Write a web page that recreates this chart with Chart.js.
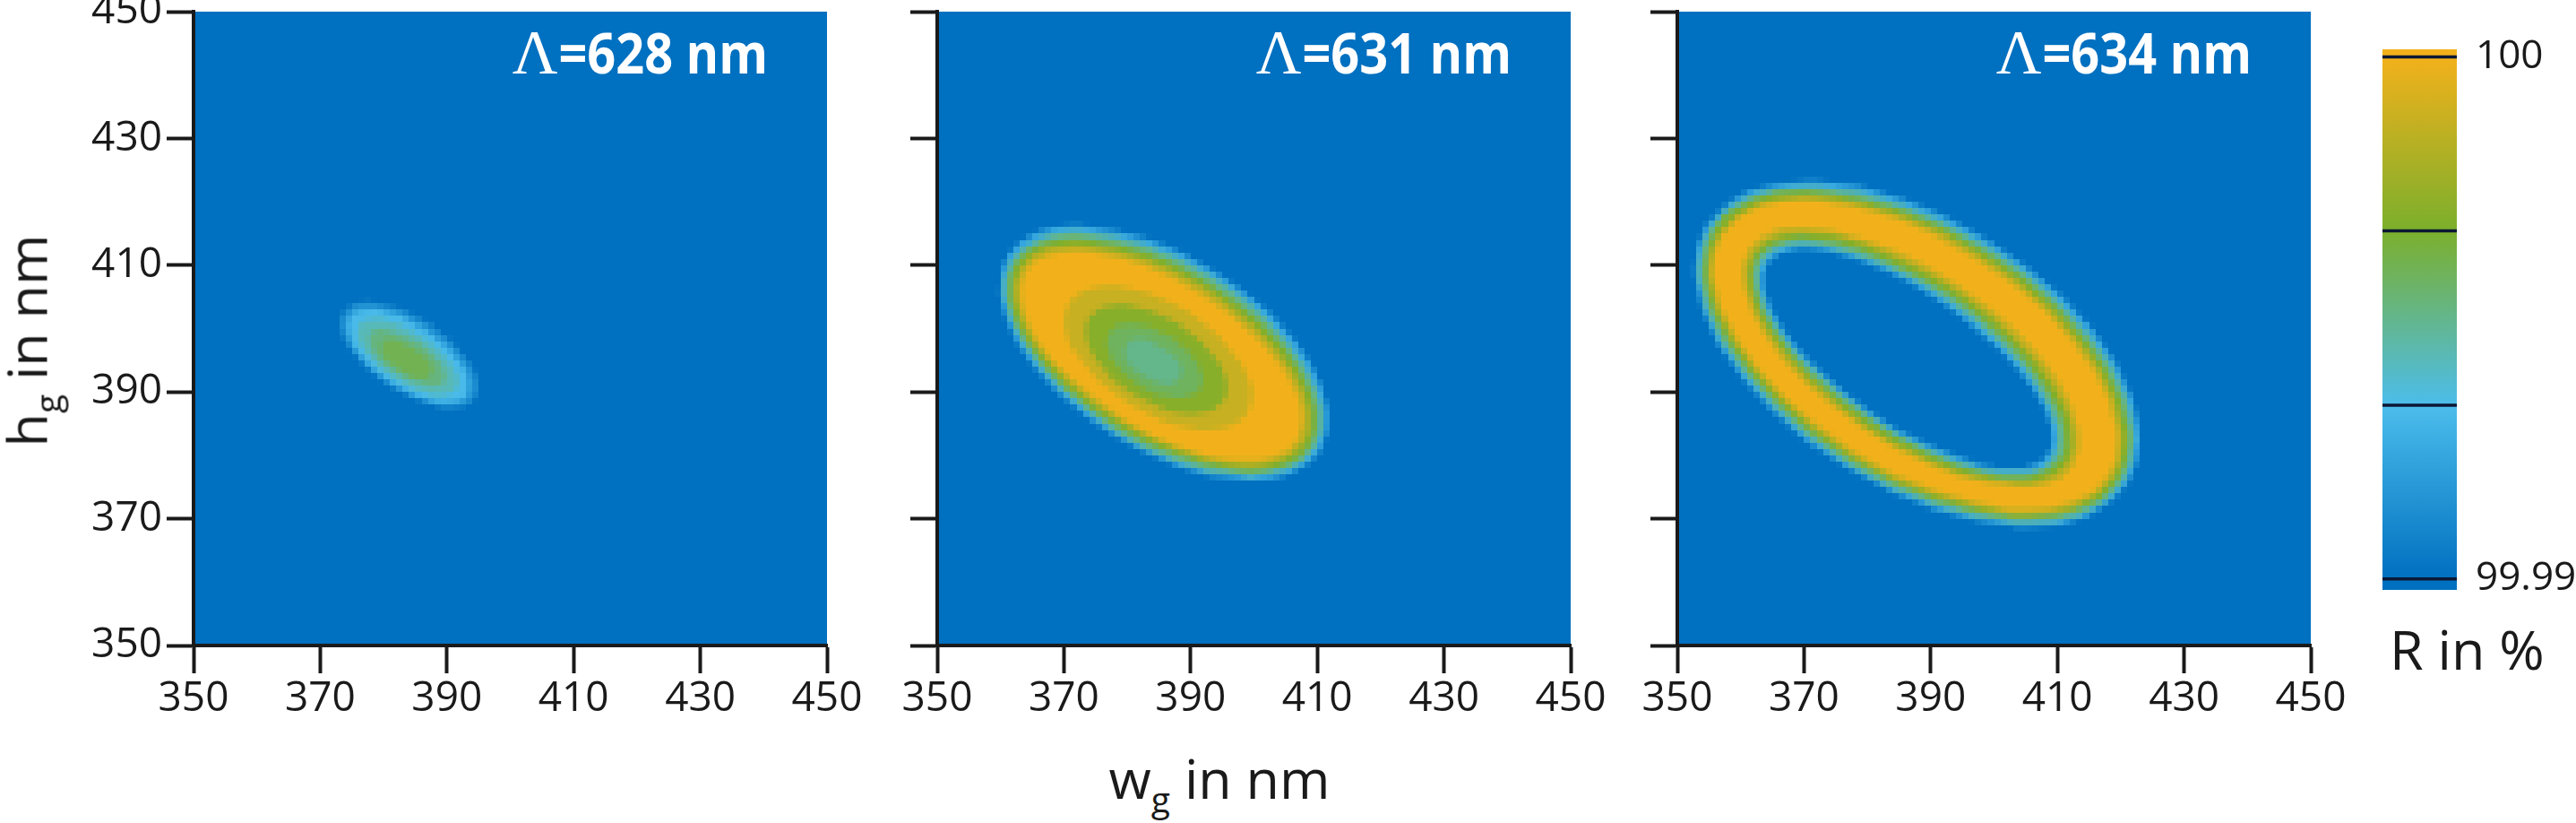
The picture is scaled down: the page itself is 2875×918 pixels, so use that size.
<!DOCTYPE html>
<html lang="en">
<head>
<meta charset="UTF-8">
<title>Reflectance maps</title>
<script src="https://cdn.jsdelivr.net/npm/chart.js"></script>
<style>
  body { margin: 0; background: #fff; }
  #page { position: relative; width: 2875px; height: 918px; overflow: hidden; font-family: "Open Sans", sans-serif; color: #1a1a1a; }
  canvas { position: absolute; top: 0; }
  .axis-title { position: absolute; font-size: 61px; line-height: 61px; white-space: nowrap; }
  .axis-title sub { font-size: 39px; vertical-align: -15px; line-height: 0; }
  #xTitle { left: 1361px; top: 837px; transform: translateX(-50%); }
  #yTitle { left: 29px; top: 380px; transform: translate(-50%, -50%) rotate(-90deg); }
  #rTitle { left: 2667px; top: 693px; }
</style>
</head>
<body>
<div id="page">
  <canvas id="map628" width="980" height="800" style="left:0px"></canvas>
  <canvas id="map631" width="824" height="800" style="left:986px"></canvas>
  <canvas id="map634" width="824" height="800" style="left:1812px"></canvas>
  <canvas id="colorbar" width="235" height="700" style="left:2640px"></canvas>
  <div class="axis-title" id="xTitle">w<sub>g</sub> in nm</div>
  <div class="axis-title" id="yTitle">h<sub>g</sub> in nm</div>
  <div class="axis-title" id="rTitle">R in %</div>
</div>

<script>
  // grating periods of the three maps
  const wavelengths = [628, 631, 634];
  const axisTicks = [350, 370, 390, 410, 430, 450];

  // reflectance contours (outer first):
  // [w centre, h centre, semi-major, semi-minor, tilt in deg, R in %]
  const contours628 = [
    [384.0, 395.8, 12.4, 5.8, -33, 99.9915],
    [383.9, 395.6, 11.2, 5.0, -33, 99.9932],
    [383.8, 395.5, 9.2, 4.0, -33, 99.9942],
    [383.7, 395.4, 7.0, 3.0, -33, 99.9952],
    [383.6, 395.3, 4.6, 2.0, -33, 99.9960]
  ];
  const contours631 = [
    [385.8, 396.1, 29.1, 15.2, -31.7, 99.9925],
    [385.7, 396.0, 28.2, 14.3, -31.7, 99.9950],
    [385.6, 395.9, 27.3, 13.4, -31.7, 99.9968],
    [385.5, 395.8, 26.3, 12.5, -31.7, 99.9986],
    [385.4, 395.7, 25.2, 11.6, -31.7, 100.0],
    [384.9, 395.3, 16.5, 8.7, -31.7, 99.9988],
    [384.6, 395.1, 12.5, 6.6, -31.7, 99.9970],
    [384.3, 394.9, 8.5, 4.5, -31.7, 99.9958],
    [384.1, 394.8, 5.0, 2.7, -31.7, 99.9950]
  ];
  const contours634 = [
    [387.9, 396.0, 39.0, 21.2, -31.3, 99.9925],
    [387.8, 395.9, 38.2, 20.4, -31.4, 99.9950],
    [387.8, 395.9, 37.4, 19.6, -31.6, 99.9968],
    [387.7, 395.8, 36.6, 18.8, -31.8, 99.9986],
    [387.6, 395.8, 35.8, 18.0, -32.0, 100.0],
    [386.9, 395.5, 30.8, 13.6, -33.8, 99.9986],
    [386.8, 395.4, 29.8, 12.7, -34.0, 99.9968],
    [386.6, 395.4, 28.8, 11.8, -34.2, 99.9950],
    [386.5, 395.3, 27.8, 11.0, -34.4, 99.9925],
    [386.4, 395.3, 26.8, 10.3, -34.5, 99.9900]
  ];

  // colour scale
  const colorbarValues = [99.99, 99.99333, 99.99667, 100];
  const colorbarColors = ['#0070C0', '#4CBDEB', '#7BAF2C', '#F2B11B'];
  const colorbarTicks = [99.99, 100];
  const colorbarTickLabels = ['99.99', '100'];

  const ink = '#1a1a1a';
  const tickFont = { family: '"Open Sans"', size: 46 };

  function hexToRgb(h) {
    const n = parseInt(h.slice(1), 16);
    return [(n >> 16) & 255, (n >> 8) & 255, n & 255];
  }

  // R value -> colour, linear between the colour bar stops
  function colourFor(r) {
    if (r <= colorbarValues[0]) return colorbarColors[0];
    for (let i = 1; i < colorbarValues.length; i++) {
      if (r <= colorbarValues[i]) {
        const t = (r - colorbarValues[i - 1]) / (colorbarValues[i] - colorbarValues[i - 1]);
        const a = hexToRgb(colorbarColors[i - 1]), b = hexToRgb(colorbarColors[i]);
        return 'rgb(' + a.map((v, k) => Math.round(v + (b[k] - v) * t)).join(',') + ')';
      }
    }
    return colorbarColors[colorbarColors.length - 1];
  }

  // draws the map as 1 nm cells, then the Λ label
  function makeMapPlugin(wavelength, contours) {
    return {
      id: 'reflectanceMap',
      beforeDraw(chart) {
        const { ctx, scales: { x, y } } = chart;
        const grid = document.createElement('canvas');
        grid.width = x.max - x.min;
        grid.height = y.max - y.min;
        const g = grid.getContext('2d');
        g.fillStyle = colourFor(colorbarValues[0]);
        g.fillRect(0, 0, grid.width, grid.height);
        g.filter = 'blur(0.5px)';
        contours.forEach(([cw, ch, a, b, tilt, r]) => {
          g.beginPath();
          g.ellipse(cw - x.min, y.max - ch, a, b, -tilt * Math.PI / 180, 0, 2 * Math.PI);
          g.fillStyle = colourFor(r);
          g.fill();
        });
        const left = x.getPixelForValue(x.min), right = x.getPixelForValue(x.max);
        const top = y.getPixelForValue(y.max), bottom = y.getPixelForValue(y.min);
        ctx.save();
        ctx.imageSmoothingEnabled = false;
        ctx.drawImage(grid, left, top, right - left, bottom - top);
        ctx.restore();
      },
      afterDraw(chart) {
        const { ctx, chartArea } = chart;
        const xr = chartArea.right - 66, yb = chartArea.top + 69;
        const txt = '=' + wavelength + ' nm';
        ctx.save();
        ctx.fillStyle = '#fff';
        ctx.textBaseline = 'alphabetic';
        ctx.textAlign = 'left';
        ctx.font = 'bold 62px "Open Sans"';
        const w = ctx.measureText(txt).width * 0.9;
        ctx.translate(xr - w, yb);
        ctx.scale(0.9, 1);
        ctx.fillText(txt, 0, 0);
        ctx.restore();
        ctx.save();
        ctx.fillStyle = '#fff';
        ctx.textBaseline = 'alphabetic';
        ctx.textAlign = 'right';
        ctx.font = '70px "Liberation Serif"';
        ctx.fillText('Λ', xr - w - 1, yb);
        ctx.restore();
      }
    };
  }

  function buildMap(id, wavelength, contours, showLabels) {
    const yWidth = showLabels ? 216 : 60;
    return new Chart(document.getElementById(id), {
      type: 'scatter',
      data: { datasets: [] },
      options: {
        responsive: false,
        animation: false,
        events: [],
        layout: { padding: { top: 13, right: 57, bottom: 0, left: 0 } },
        plugins: { legend: { display: false }, tooltip: { enabled: false } },
        scales: {
          x: {
            type: 'linear', min: 350, max: 450,
            afterBuildTicks: s => { s.ticks = axisTicks.map(v => ({ value: v })); },
            afterFit: s => { s.height = 80; s.paddingLeft = 0; s.paddingRight = 0; },
            grid: { drawOnChartArea: false, drawTicks: true, tickLength: 31, tickWidth: 4, tickColor: ink },
            border: { display: true, color: ink, width: 4 },
            ticks: { font: tickFont, color: ink, padding: 1, maxRotation: 0, autoSkip: false }
          },
          y: {
            type: 'linear', min: 350, max: 450,
            afterBuildTicks: s => { s.ticks = axisTicks.map(v => ({ value: v })); },
            afterFit: s => { s.width = yWidth; s.paddingTop = 0; s.paddingBottom = 0; },
            grid: { drawOnChartArea: false, drawTicks: true, tickLength: 30, tickWidth: 4, tickColor: ink },
            border: { display: true, color: ink, width: 4 },
            ticks: {
              font: tickFont,
              color: showLabels ? ink : 'rgba(0,0,0,0)',
              padding: 5, autoSkip: false
            }
          }
        }
      },
      plugins: [makeMapPlugin(wavelength, contours)]
    });
  }

  buildMap('map628', wavelengths[0], contours628, true);
  buildMap('map631', wavelengths[1], contours631, false);
  buildMap('map634', wavelengths[2], contours634, false);

  // colour bar
  const colorbarPlugin = {
    id: 'colorbarFill',
    beforeDraw(chart) {
      const { ctx, chartArea: a, scales: { y } } = chart;
      const v0 = colorbarValues[0], v1 = colorbarValues[colorbarValues.length - 1];
      const grad = ctx.createLinearGradient(0, y.getPixelForValue(v0), 0, y.getPixelForValue(v1));
      colorbarValues.forEach((v, i) => grad.addColorStop((v - v0) / (v1 - v0), colorbarColors[i]));
      ctx.save();
      ctx.fillStyle = grad;
      ctx.fillRect(a.left, a.top, a.right - a.left, a.bottom - a.top);
      ctx.restore();
    },
    afterDraw(chart) {
      const { ctx, chartArea: a, scales: { y } } = chart;
      ctx.save();
      ctx.strokeStyle = '#0b1733';
      ctx.lineWidth = 3.5;
      colorbarValues.forEach(v => {
        const py = y.getPixelForValue(v);
        ctx.beginPath();
        ctx.moveTo(a.left, py);
        ctx.lineTo(a.right, py);
        ctx.stroke();
      });
      ctx.restore();
    }
  };

  new Chart(document.getElementById('colorbar'), {
    type: 'scatter',
    data: { datasets: [] },
    options: {
      responsive: false,
      animation: false,
      events: [],
      layout: { padding: { top: 55, bottom: 42, left: 19, right: 0 } },
      plugins: { legend: { display: false }, tooltip: { enabled: false } },
      scales: {
        x: { display: false },
        y: {
          position: 'right', min: 99.98979, max: 100.000146,
          afterBuildTicks: s => { s.ticks = colorbarTicks.map(v => ({ value: v })); },
          afterFit: s => { s.width = 133; s.paddingTop = 0; s.paddingBottom = 0; },
          grid: { display: false, drawTicks: false },
          border: { display: false },
          ticks: {
            padding: 21, color: ink, font: { family: '"Open Sans"', size: 44 },
            callback: (v, i) => colorbarTickLabels[i]
          }
        }
      }
    },
    plugins: [colorbarPlugin]
  });
</script>
</body>
</html>
